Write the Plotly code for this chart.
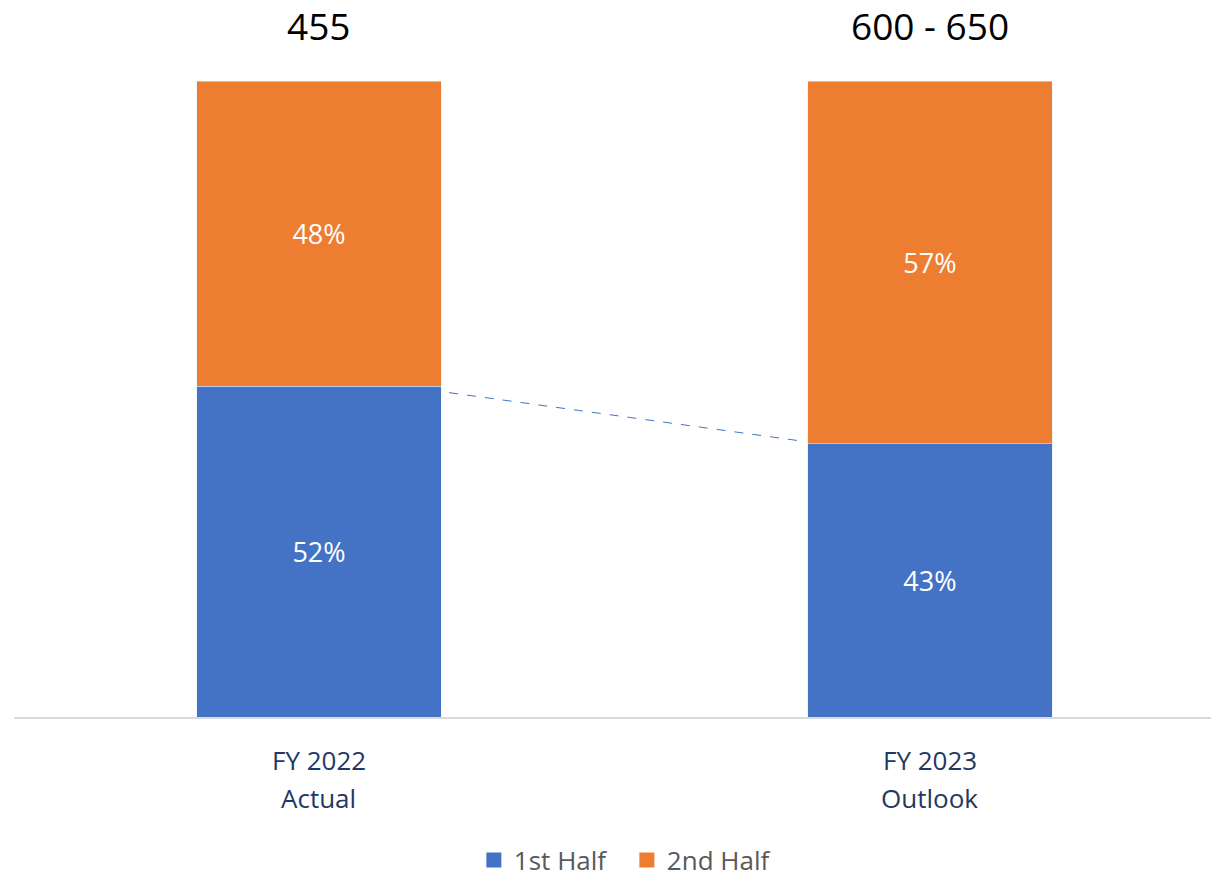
import plotly.graph_objects as go

categories = ["FY 2022<br>Actual", "FY 2023<br>Outlook"]
first_half = [52, 43]
second_half = [48, 57]
totals = ["455", "600 - 650"]
connector_x = [0.213, 0.789]
connector_y = [51, 43.4]

BLUE = "#4472C4"
ORANGE = "#ED7D31"
FONT = "Open Sans"
xpos = list(range(len(categories)))

fig = go.Figure()
fig.add_trace(go.Bar(
    x=xpos, y=first_half, name="1st Half", marker_color=BLUE, width=0.4,
    text=[f"{v}%" for v in first_half], textposition="inside", showlegend=False,
    insidetextanchor="middle", textfont=dict(color="white", size=27, family=FONT),
))
fig.add_trace(go.Bar(
    x=xpos, y=second_half, name="2nd Half", marker_color=ORANGE, width=0.4,
    text=[f"{v}%" for v in second_half], textposition="inside", showlegend=False,
    insidetextanchor="middle", textfont=dict(color="white", size=27, family=FONT),
))
fig.add_trace(go.Scatter(
    x=connector_x, y=connector_y, mode="lines", showlegend=False,
    line=dict(color=BLUE, width=1, dash="dash"), hoverinfo="skip",
))
# legend entries with larger square symbols
for name, col in [("1st Half", BLUE), ("2nd Half", ORANGE)]:
    fig.add_trace(go.Scatter(
        x=[None], y=[None], mode="markers", name=name,
        marker=dict(symbol="square", size=15, color=col),
    ))

for i, t in enumerate(totals):
    fig.add_annotation(x=xpos[i], y=1.088, xref="x", yref="paper", text=t,
                       showarrow=False, yanchor="middle",
                       font=dict(size=37, color="black", family=FONT))

# category labels, two lines each
for i, c in enumerate(categories):
    lines = c.split("<br>")
    for j, ln in enumerate(lines):
        fig.add_annotation(x=xpos[i], y=-(760 + 38 * j - 717) / 636, xref="x", yref="paper",
                           text=ln, showarrow=False, yanchor="middle",
                           font=dict(size=26, color="#1F3864", family=FONT))

fig.update_layout(
    barmode="stack",
    width=1211, height=877,
    margin=dict(l=14, r=0, t=81, b=160, autoexpand=False),
    plot_bgcolor="white", paper_bgcolor="white",
    font=dict(family=FONT),
    legend=dict(orientation="h", x=0.512, xanchor="center", y=-0.225, yanchor="middle",
                font=dict(size=26, color="#595959", family=FONT),
                itemwidth=30, traceorder="normal",
                entrywidth=108, entrywidthmode="pixels"),
    xaxis=dict(range=[-0.4992, 1.46], tickvals=xpos, showticklabels=False,
               showline=True, linecolor="#D9D9D9", linewidth=2, showgrid=False,
               zeroline=False, ticks=""),
    yaxis=dict(range=[0, 100], visible=False, showgrid=False, zeroline=False),
    showlegend=True,
)

fig.write_html("out.html")
